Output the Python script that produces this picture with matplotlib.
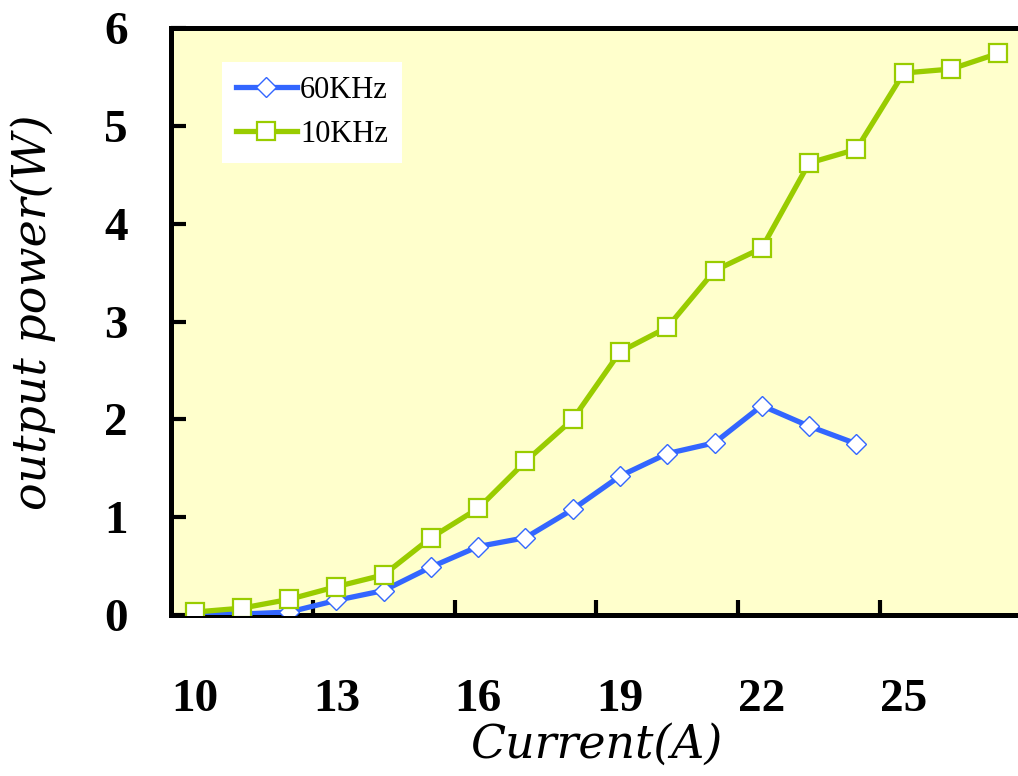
import matplotlib
matplotlib.use("Agg")
import matplotlib.pyplot as plt
from matplotlib.ticker import FixedLocator

# Output power measured against pump current at two repetition rates
current_60k = [10, 11, 12, 13, 14, 15, 16, 17, 18, 19, 20, 21, 22, 23, 24]
power_60k = [0.02, 0.01, 0.03, 0.15, 0.25, 0.49, 0.70, 0.79, 1.08, 1.42,
             1.65, 1.76, 2.14, 1.93, 1.75]

current_10k = [10, 11, 12, 13, 14, 15, 16, 17, 18, 19, 20, 21, 22, 23, 24,
               25, 26, 27]
power_10k = [0.03, 0.07, 0.16, 0.29, 0.41, 0.79, 1.09, 1.57, 2.00, 2.69,
             2.94, 3.52, 3.75, 4.62, 4.76, 5.54, 5.58, 5.74]

x_tick_labels = ["10", "13", "16", "19", "22", "25"]
x_label_pos = [10, 13, 16, 19, 22, 25]
x_tick_marks = [12.5, 15.5, 18.5, 21.5, 24.5]
y_ticks = [0, 1, 2, 3, 4, 5, 6]

W, H = 1018, 776
fig = plt.figure(figsize=(W / 100, H / 100), dpi=100)
ax = fig.add_axes([171 / W, (H - 615) / H, 1 - 171 / W, (615 - 28) / H])
ax.set_facecolor("#FFFFCC")

blue = "#3366FF"
green = "#99CC00"

ax.plot(current_60k, power_60k, color=blue, lw=3.8, marker="D", ms=10.5,
        mfc="white", mec=blue, mew=1.0, label="60KHz", zorder=3)
ax.plot(current_10k, power_10k, color=green, lw=3.8, marker="s", ms=13,
        mfc="white", mec=green, mew=1.6, label="10KHz", zorder=4)

ax.set_xlim(9.5, 27.42)
ax.set_ylim(0, 6)

# category-style axis: labels sit on the points, tick marks between groups
ax.xaxis.set_major_locator(FixedLocator(x_label_pos))
ax.set_xticklabels(x_tick_labels)
ax.xaxis.set_minor_locator(FixedLocator(x_tick_marks))
ax.tick_params(axis="x", which="major", length=0, pad=46)
ax.tick_params(axis="x", which="minor", direction="in", length=11,
               width=3, color="black")

ax.set_yticks(y_ticks)
ax.tick_params(axis="y", which="major", direction="in", length=11, width=3,
               pad=31)

for lab in ax.get_xticklabels() + ax.get_yticklabels():
    lab.set_fontfamily("Liberation Serif")
    lab.set_fontsize(34)
    lab.set_fontweight("bold")

for side in ("left", "bottom", "top"):
    ax.spines[side].set_linewidth(3.6)
    ax.spines[side].set_color("black")
ax.spines["right"].set_visible(False)

fig.text(596 / W, 1 - 745 / H, "Current(A)", ha="center", va="center",
         family="DejaVu Serif", style="italic", fontsize=33)
fig.text(33 / W, 1 - 312 / H, "output power(W)", ha="center", va="center",
         rotation=90, family="DejaVu Serif", style="italic", fontsize=33)

leg = ax.legend(loc="upper left", bbox_to_anchor=(222 / W, 1 - 62 / H),
                bbox_transform=fig.transFigure, frameon=True, fancybox=False,
                facecolor="white", edgecolor="none", framealpha=1,
                borderaxespad=0, borderpad=0.45, handlelength=2.0,
                handletextpad=0.1, labelspacing=0.5,
                prop=dict(family="Liberation Serif", size=22))

fig.savefig("out.png", dpi=100)
